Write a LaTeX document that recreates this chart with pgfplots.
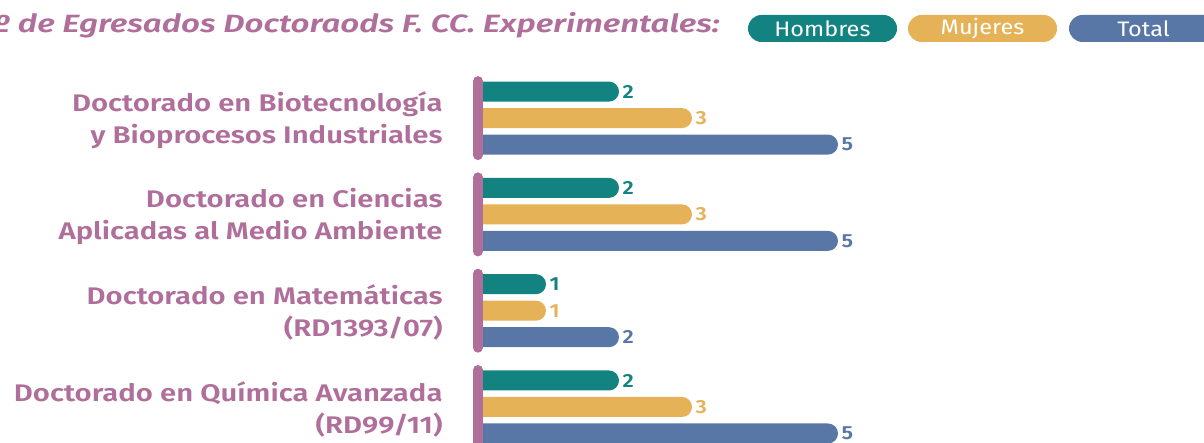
\documentclass[border=0pt]{standalone}
\usepackage{fontspec}
\setmainfont{Fira Sans}
\newfontfamily\labfont{Fira Sans SemiBold}[FakeStretch=1.22]
\newfontfamily\titfont{Fira Sans SemiBold Italic}[FakeStretch=1.32]
\newfontfamily\legfont{Fira Sans}[FakeStretch=1.12]
\newfontfamily\numfont{Fira Sans SemiBold}[FakeStretch=1.15]
\usepackage{pgfplots}
\pgfplotsset{compat=1.18}
\definecolor{cteal}{HTML}{128380}
\definecolor{cyel}{HTML}{E5B257}
\definecolor{cblue}{HTML}{5876A6}
\definecolor{cpurp}{HTML}{B06E9B}
\begin{document}
\begin{tikzpicture}
\useasboundingbox (0,0) rectangle (1204pt,443pt);
\clip (0,0) rectangle (1204pt,443pt);
\node[anchor=base east, font=\titfont\fontsize{25}{30}\selectfont, text=cpurp, inner sep=0pt] at (720pt,410pt) {Nº de Egresados Doctoraods F. CC. Experimentales:};
\node[fill=cteal, rounded corners=13.5pt, minimum width=149pt, minimum height=27pt, inner sep=0pt, text=white, font=\legfont\fontsize{21}{24}\selectfont] at (822.5pt,414.5pt) {Hombres};
\node[fill=cyel, rounded corners=13.5pt, minimum width=149pt, minimum height=27pt, inner sep=0pt, text=white, font=\legfont\fontsize{21}{24}\selectfont] at (982.5pt,414.5pt) {Mujeres};
\node[fill=cblue, rounded corners=13.5pt, minimum width=149pt, minimum height=27pt, inner sep=0pt, text=white, font=\legfont\fontsize{21}{24}\selectfont] at (1143.5pt,414.5pt) {Total};
\begin{axis}[
  x=73pt, y=96.3pt,
  at={(473pt,36pt)}, anchor=origin,
  xmin=0, xmax=10, ymin=-0.6, ymax=3.6,
  axis line style={draw=none},
  xtick=\empty,
  ytick={0,1,2,3},
  yticklabels={{Doctorado en Química Avanzada\\(RD99/11)},{Doctorado en Matemáticas\\(RD1393/07)},{Doctorado en Ciencias\\Aplicadas al Medio Ambiente},{Doctorado en Biotecnología\\y Bioprocesos Industriales}},
  ytick style={draw=none},
  yticklabel style={align=right, anchor=east, inner sep=0pt, xshift=-26pt, yshift=-2pt, text=cpurp, font=\labfont\fontsize{24}{32}\selectfont},
  /pgf/number format/assume math mode=true,
  xbar, bar width=20pt,
  clip=false,
  nodes near coords,
  point meta=x,
  nodes near coords style={font=\numfont\fontsize{19}{22}\selectfont, anchor=west},
]
\addplot[draw=none, fill=cteal, rounded corners=10pt, bar shift=26.5pt, nodes near coords style={text=cteal}] coordinates {(2,3) (2,2) (1,1) (2,0)};
\addplot[draw=none, fill=cyel, rounded corners=10pt, bar shift=0pt, nodes near coords style={text=cyel}] coordinates {(3,3) (3,2) (1,1) (3,0)};
\addplot[draw=none, fill=cblue, rounded corners=10pt, bar shift=-26.5pt, nodes near coords style={text=cblue}] coordinates {(5,3) (5,2) (2,1) (5,0)};
\draw[cpurp, line width=10pt, line cap=round] ([xshift=5pt,yshift=37pt]axis cs:0,3) -- ([xshift=5pt,yshift=-37pt]axis cs:0,3);
\draw[cpurp, line width=10pt, line cap=round] ([xshift=5pt,yshift=37pt]axis cs:0,2) -- ([xshift=5pt,yshift=-37pt]axis cs:0,2);
\draw[cpurp, line width=10pt, line cap=round] ([xshift=5pt,yshift=37pt]axis cs:0,1) -- ([xshift=5pt,yshift=-37pt]axis cs:0,1);
\draw[cpurp, line width=10pt, line cap=round] ([xshift=5pt,yshift=37pt]axis cs:0,0) -- ([xshift=5pt,yshift=-37pt]axis cs:0,0);
\end{axis}
\end{tikzpicture}
\end{document}
